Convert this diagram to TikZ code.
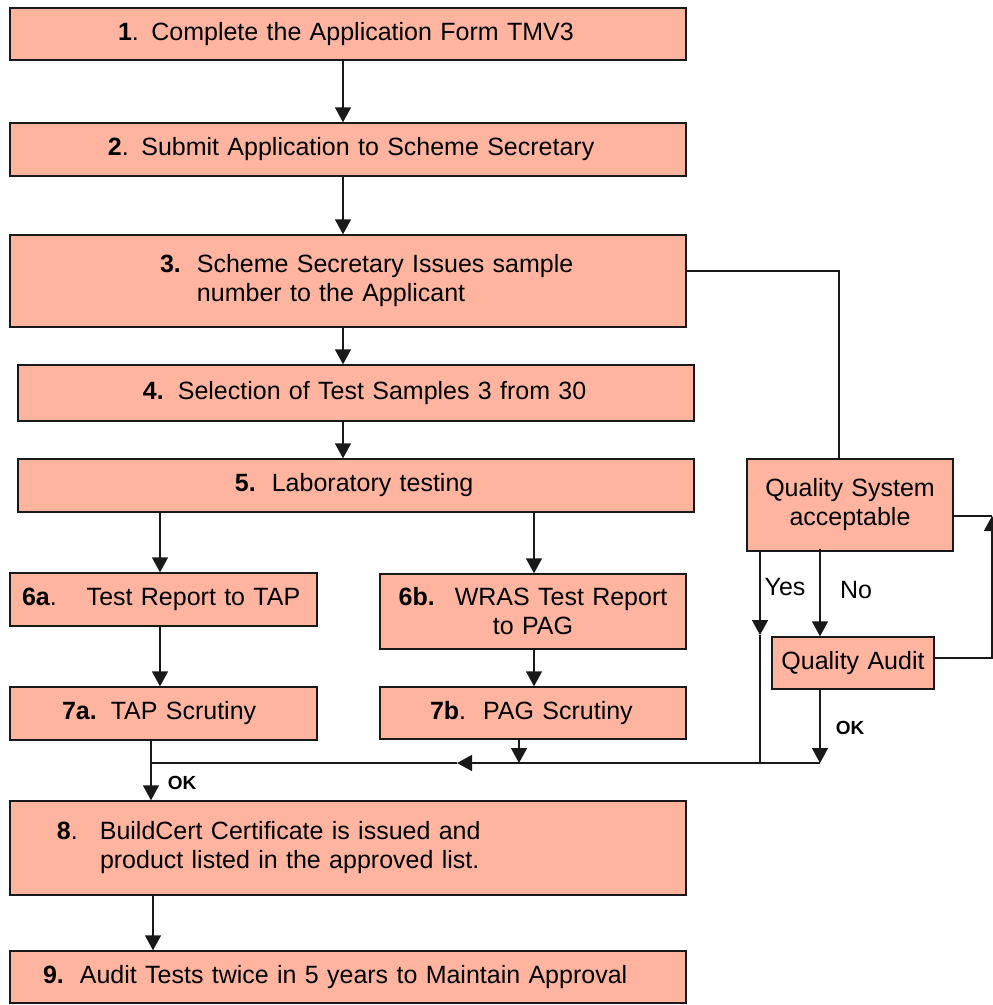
\documentclass[tikz,border=0pt]{standalone}
\usepackage{fontspec}
\setmainfont{Liberation Sans}
\usetikzlibrary{arrows.meta}
\definecolor{boxfill}{RGB}{255,180,160}
\begin{document}
\begin{tikzpicture}[x=1pt,y=-1pt,
  box/.style={draw=black!90, line width=1.4pt, fill=boxfill, inner sep=0pt,
    font=\fontsize{25pt}{29pt}\selectfont},
  lbox/.style={box, align=left},
  cbox/.style={box, align=center},
  conn/.style={line width=1.4pt, black!90},
  arr/.style={conn, -{Triangle[length=15pt,width=16pt]}},
  lbl/.style={font=\fontsize{25pt}{29pt}\selectfont, inner sep=0pt},
  oklbl/.style={font=\fontsize{19pt}{22pt}\selectfont\bfseries, inner sep=0pt}]
\useasboundingbox (0,0) rectangle (993,1005);

% boxes
\node[lbox, text width=676pt, minimum height=52pt] (b1) at (348,34)
  {\hspace*{108pt}\textbf{1}. Complete the Application Form TMV3};
\node[lbox, text width=676pt, minimum height=53pt] (b2) at (348,149.5)
  {\hspace*{98pt}\textbf{2}. Submit Application to Scheme Secretary};
\node[lbox, text width=676pt, minimum height=92pt] (b3) at (348,281)
  {\hspace*{150pt}\textbf{3.}\hspace{16pt}Scheme Secretary Issues sample\\
   \hspace*{187pt}number to the Applicant};
\node[lbox, text width=676pt, minimum height=56pt] (b4) at (356,393)
  {\hspace*{125pt}\textbf{4.}\hspace{14pt}Selection of Test Samples 3 from 30};
\node[lbox, text width=676pt, minimum height=53pt] (b5) at (356,485.5)
  {\hspace*{217pt}\textbf{5.}\hspace{16pt}Laboratory testing};
\node[lbox, text width=307pt, minimum height=53pt] (b6a) at (163.5,599.5)
  {\hspace*{12pt}\textbf{6a}.\hspace{30pt}Test Report to TAP};
\node[cbox, text width=306pt, minimum height=75pt] (b6b) at (533,611.5)
  {\textbf{6b.}\hspace{20pt}WRAS Test Report\\ to PAG};
\node[lbox, text width=307pt, minimum height=53pt] (b7a) at (163.5,713.5)
  {\hspace*{52pt}\textbf{7a.}\hspace{14pt}TAP Scrutiny};
\node[lbox, text width=306pt, minimum height=52pt] (b7b) at (533,713)
  {\hspace*{50pt}\textbf{7b}.\hspace{17pt}PAG Scrutiny};
\node[cbox, text width=206pt, minimum height=92pt] (qs) at (850,505)
  {Quality System\\acceptable};
\node[cbox, text width=162pt, minimum height=52pt] (qa) at (853,663)
  {Quality Audit};
\node[lbox, text width=676pt, minimum height=94pt] (b8) at (348,848)
  {\hspace*{47pt}\textbf{8}.\hspace{22pt}BuildCert Certificate is issued and\\
   \hspace*{90pt}product listed in the approved list.};
\node[lbox, text width=676pt, minimum height=52pt] (b9) at (348,977)
  {\hspace*{33pt}\textbf{9.}\hspace{16pt}Audit Tests twice in 5 years to Maintain Approval};

% helper coordinates
\coordinate (cA) at (343,0);
\coordinate (c6a) at (160,0);
\coordinate (c6b) at (534,0);
\coordinate (c7a) at (151,0);
\coordinate (c7b) at (519,763);
\coordinate (cy) at (760,635);
\coordinate (cyb) at (760,763);
\coordinate (cn) at (820,0);
\coordinate (jR) at (820,763);
\coordinate (jM) at (457,763);
\coordinate (jL) at (151,763);
\coordinate (tq) at (839,271);
\coordinate (loop) at (992,516);
\coordinate (c9) at (153,0);

% main column
\draw[arr] (b1.south -| cA) -- (b2.north -| cA);
\draw[arr] (b2.south -| cA) -- (b3.north -| cA);
\draw[arr] (b3.south -| cA) -- (b4.north -| cA);
\draw[arr] (b4.south -| cA) -- (b5.north -| cA);
\draw[arr] (b5.south -| c6a) -- (b6a.north -| c6a);
\draw[arr] (b6a.south -| c6a) -- (b7a.north -| c6a);
\draw[arr] (b5.south -| c6b) -- (b6b.north -| c6b);
\draw[arr] (b6b.south -| c6b) -- (b7b.north -| c6b);
\draw[arr] (b7a.south -| c7a) -- (b8.north -| c7a);
\draw[arr] (b8.south -| c9) -- (b9.north -| c9);

% merge line
\draw[arr] (jR) -- (jM);
\draw[conn] (jM) -- (jL);
\draw[arr] (b7b.south -| c7b) -- (c7b);

% quality branch
\draw[conn] (b3.east |- tq) -- (tq) -- (qs.north -| tq);
\draw[arr] (qs.south -| cy) -- (cy);
\draw[conn] (cy) -- (cyb);
\draw[arr] ([yshift=3pt]qs.south -| cn) -- (qa.north -| cn);
\draw[arr] (qa.south -| cn) -- (jR);
\draw[arr] ([yshift=5pt]qa.east) -| (loop);
\draw[conn] (qs.east |- loop) -- (loop);

% labels
\node[lbl] (yes) at (785,587) {Yes};
\node[lbl] (no) at (856,590) {No};
\node[oklbl] (ok1) at (850,728) {OK};
\node[oklbl] (ok2) at (182,783) {OK};
\end{tikzpicture}
\end{document}
